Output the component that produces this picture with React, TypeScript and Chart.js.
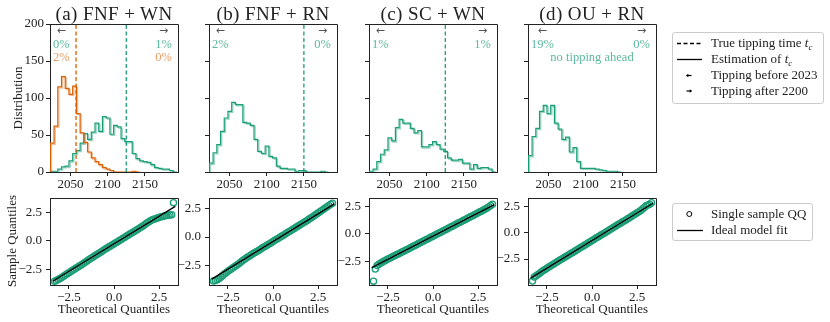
import React, { useEffect, useRef } from 'react';
import { Chart, registerables } from 'chart.js';

Chart.register(...registerables);

// ---------------- data ----------------
const binEdges = [2023, 2028, 2033, 2038, 2043, 2048, 2053, 2058, 2063, 2068, 2073, 2078, 2083, 2088, 2093, 2098, 2103, 2108, 2113, 2118, 2123, 2128, 2133, 2138, 2143, 2148, 2153, 2158, 2163, 2168, 2173, 2178, 2183, 2188, 2193];
const yearTicks = [2050, 2100, 2150];
const distTicks = [0, 50, 100, 150, 200];
const yearMin = 2022.5;
const yearMax = 2194.5;
const distMax = 200;

const histAGreen = [0, 1, 1, 4, 7, 8, 15, 25, 29, 39, 52, 44, 54, 66, 55, 75, 73, 51, 63, 61, 45, 41, 41, 25, 18, 15, 14, 13, 10, 6, 5, 4, 4, 2];
const histAOrange = [23, 39, 62, 115, 129, 113, 105, 116, 79, 53, 40, 27, 19, 14, 10, 6, 4, 2, 0, 0, 0, 0, 0, 1];
const histB = [1, 12, 26, 37, 55, 73, 82, 94, 91, 91, 67, 66, 63, 44, 28, 25, 35, 21, 19, 8, 5, 5, 4, 4, 1, 2, 2, 0, 0, 0, 0, 1];
const histC = [1, 1, 4, 14, 24, 30, 46, 42, 60, 71, 66, 66, 59, 53, 56, 34, 34, 37, 41, 37, 31, 28, 19, 16, 16, 17, 12, 12, 4, 10, 5, 6, 6, 4];
const histD = [8, 22, 48, 59, 82, 90, 79, 90, 66, 58, 44, 47, 27, 33, 14, 5, 5, 5, 5, 4, 3, 2, 1, 1, 1];

const tcAGreen = 2125;
const tcAOrange = 2057.5;
const tcB = 2150;
const tcC = 2125;

const panelTitles = ['(a) FNF + WN', '(b) FNF + RN', '(c) SC + WN', '(d) OU + RN'];
const tippingBeforeA = ['0%', '2%'];
const tippingAfterA = ['1%', '0%'];
const tippingBeforeB = ['2%'];
const tippingAfterB = ['0%'];
const tippingBeforeC = ['1%'];
const tippingAfterC = ['1%'];
const tippingBeforeD = ['19%'];
const tippingAfterD = ['0%'];
const noteD = 'no tipping ahead';

const qqTheoretical = [-3.3, -3.2, -3.1, -3.0, -2.9, -2.8, -2.7, -2.6, -2.5, -2.4, -2.3, -2.2, -2.1, -2.0, -1.9, -1.8, -1.7, -1.6, -1.5, -1.4, -1.3, -1.2, -1.1, -1.0, -0.9, -0.8, -0.7, -0.6, -0.5, -0.4, -0.3, -0.2, -0.1, 0.0, 0.1, 0.2, 0.3, 0.4, 0.5, 0.6, 0.7, 0.8, 0.9, 1.0, 1.1, 1.2, 1.3, 1.4, 1.5, 1.6, 1.7, 1.8, 1.9, 2.0, 2.1, 2.2, 2.3, 2.4, 2.5, 2.6, 2.7, 2.8, 2.9, 3.0, 3.1, 3.2, 3.3];
const qqSampleA = [-3.56, -3.50, -3.42, -3.33, -3.24, -3.13, -3.02, -2.91, -2.81, -2.71,
  -2.61, -2.51, -2.41, -2.31, -2.21, -2.11, -2.00, -1.89, -1.79, -1.68,
  -1.57, -1.47, -1.37, -1.26, -1.16, -1.06, -0.96, -0.85, -0.75, -0.66,
  -0.56, -0.47, -0.37, -0.27, -0.17, -0.08, 0.02, 0.12, 0.22, 0.31,
  0.41, 0.51, 0.61, 0.71, 0.80, 0.90, 1.00, 1.10, 1.20, 1.31,
  1.42, 1.54, 1.64, 1.74, 1.82, 1.89, 1.95, 2.01, 2.06, 2.11,
  2.15, 2.19, 2.22, 2.25, 2.28, 2.30, 3.36];
const qqSampleB = [-3.85, -3.80, -3.74, -3.66, -3.52, -3.38, -3.24, -3.12, -3.00, -2.89,
  -2.78, -2.67, -2.56, -2.45, -2.33, -2.20, -2.08, -1.97, -1.86, -1.75,
  -1.65, -1.55, -1.45, -1.36, -1.26, -1.17, -1.07, -0.97, -0.87, -0.78,
  -0.68, -0.58, -0.49, -0.39, -0.29, -0.19, -0.10, 0.00, 0.10, 0.19,
  0.29, 0.39, 0.48, 0.58, 0.68, 0.77, 0.87, 0.97, 1.07, 1.17,
  1.27, 1.37, 1.46, 1.57, 1.67, 1.77, 1.88, 1.99, 2.10, 2.21,
  2.32, 2.43, 2.55, 2.66, 2.77, 2.88, 2.97];
const qqSampleC = [-4.30, -3.20, -2.88, -2.75, -2.64, -2.55, -2.46, -2.38, -2.29, -2.21,
  -2.13, -2.04, -1.96, -1.88, -1.80, -1.71, -1.63, -1.55, -1.47, -1.39,
  -1.30, -1.22, -1.13, -1.05, -0.96, -0.88, -0.79, -0.71, -0.62, -0.54,
  -0.45, -0.37, -0.28, -0.20, -0.11, -0.03, 0.06, 0.14, 0.22, 0.31,
  0.39, 0.48, 0.56, 0.65, 0.73, 0.82, 0.90, 0.99, 1.07, 1.15,
  1.24, 1.32, 1.41, 1.49, 1.58, 1.66, 1.75, 1.83, 1.92, 2.01,
  2.09, 2.18, 2.27, 2.37, 2.47, 2.58, 2.70];
const qqSampleD = [-4.60, -4.22, -4.10, -3.98, -3.85, -3.72, -3.60, -3.49, -3.38, -3.27,
  -3.16, -3.05, -2.94, -2.84, -2.73, -2.63, -2.53, -2.42, -2.32, -2.22,
  -2.11, -2.01, -1.90, -1.80, -1.70, -1.59, -1.49, -1.38, -1.28, -1.17,
  -1.07, -0.96, -0.86, -0.75, -0.65, -0.54, -0.44, -0.33, -0.23, -0.12,
  -0.02, 0.09, 0.19, 0.30, 0.40, 0.51, 0.61, 0.72, 0.82, 0.93,
  1.03, 1.14, 1.24, 1.35, 1.45, 1.56, 1.67, 1.78, 1.89, 2.00,
  2.12, 2.25, 2.40, 2.55, 2.62, 2.70, 2.85];
const qqFitX = [-3.4, 3.4];
const qqFitA = [-3.57, 3.03];
const qqFitB = [-3.69, 2.91];
const qqFitC = [-3.07, 2.67];
const qqFitD = [-4.32, 2.82];
const qqXLim = [-3.55, 3.55];
const qqYLimA = [-3.9, 3.7];
const qqYLimB = [-4.2, 3.35];
const qqYLimC = [-4.65, 3.2];
const qqYLimD = [-4.97, 3.22];
const qqTicks = [-2.5, 0, 2.5];

const legendTopLabels = ['True tipping time', 'Estimation of', 'Tipping before 2023', 'Tipping after 2200'];
const legendBottomLabels = ['Single sample QQ', 'Ideal model fit'];

// ---------------- style / layout ----------------
const SERIF = "'Liberation Serif', 'Times New Roman', serif";
const ARROW_FONT = "'DejaVu Sans', sans-serif";
const GREEN = '#1b9e77';
const ORANGE = '#d95f02';
const GREEN_HALO = 'rgba(27,158,119,0.45)';
const ORANGE_HALO = 'rgba(217,95,2,0.4)';
const GREEN_TXT = 'rgba(27,158,119,0.72)';
const ORANGE_TXT = 'rgba(217,95,2,0.62)';
const AXIS = '#222222';
const TEXT = '#222222';
const ARROW = '#555555';

const PLOT_LEFTS = [50, 209, 369, 528];
const PLOT_W = 128;
const TOP_Y = 24;
const TOP_H = 148;
const BOT_Y = 197;
const BOT_H = 88;
const PAD_L = 45;
const PAD_T = 10;
const PAD_R = 8;
const PAD_B = 24;
const Y_W = 40;
const X_H = 22;

function alignPx(p: number) {
  return Math.round(p - 0.5) + 0.5;
}

const framePlugin = {
  id: 'frame',
  afterDraw(chart: any) {
    const { ctx, chartArea: a } = chart;
    ctx.save();
    ctx.strokeStyle = AXIS;
    ctx.lineWidth = 1;
    ctx.beginPath();
    const l = alignPx(a.left), r = alignPx(a.right), t = alignPx(a.top), b = alignPx(a.bottom);
    ctx.moveTo(l, t);
    ctx.lineTo(r, t);
    ctx.lineTo(r, b);
    ctx.stroke();
    ctx.restore();
  },
};

const haloPlugin = {
  id: 'halo',
  beforeDatasetDraw(chart: any, args: any) {
    const ds: any = chart.data.datasets[args.index];
    if (!ds.halo) return;
    const ctx = chart.ctx;
    ctx.save();
    ctx.shadowColor = ds.halo;
    ctx.shadowOffsetX = 1.2;
    ctx.shadowOffsetY = 1.2;
    ctx.shadowBlur = 0.6;
  },
  afterDatasetDraw(chart: any, args: any) {
    const ds: any = chart.data.datasets[args.index];
    if (!ds.halo) return;
    chart.ctx.restore();
  },
};

function scale(axis: 'x' | 'y', min: number, max: number, ticks: number[], fmt: (v: number) => string, showLabels: boolean, pad: number) {
  return {
    type: 'linear',
    min,
    max,
    afterBuildTicks: (s: any) => {
      s.ticks = ticks.map((v) => ({ value: v }));
    },
    afterFit: (s: any) => {
      if (axis === 'x') s.height = X_H;
      else s.width = Y_W;
    },
    ticks: {
      color: TEXT,
      font: { family: SERIF, size: 13 },
      padding: pad,
      maxRotation: 0,
      autoSkip: false,
      callback: (v: any) => (showLabels ? fmt(Number(v)) : ''),
    },
    grid: { display: true, drawOnChartArea: false, drawTicks: true, tickLength: 4, tickWidth: 1, tickColor: AXIS },
    border: { display: true, color: AXIS, width: 1 },
  };
}

const fmtYear = (v: number) => String(v);
const fmtQ = (v: number) => (v < 0 ? '\u2212' : '') + Math.abs(v).toFixed(1);

function stepData(counts: number[]) {
  const pts = [{ x: binEdges[0], y: 0 }];
  counts.forEach((c, i) => pts.push({ x: binEdges[i], y: c }));
  pts.push({ x: binEdges[counts.length], y: 0 });
  return pts;
}

type HistSeries = { counts: number[]; color: string; halo: string };
type HistPanel = { series: HistSeries[]; tcs: { t: number; color: string }[]; showY: boolean };

const histPanels: HistPanel[] = [
  {
    series: [
      { counts: histAGreen, color: GREEN, halo: GREEN_HALO },
      { counts: histAOrange, color: ORANGE, halo: ORANGE_HALO },
    ],
    tcs: [
      { t: tcAGreen, color: GREEN },
      { t: tcAOrange, color: ORANGE },
    ],
    showY: true,
  },
  { series: [{ counts: histB, color: GREEN, halo: GREEN_HALO }], tcs: [{ t: tcB, color: GREEN }], showY: false },
  { series: [{ counts: histC, color: GREEN, halo: GREEN_HALO }], tcs: [{ t: tcC, color: GREEN }], showY: false },
  { series: [{ counts: histD, color: GREEN, halo: GREEN_HALO }], tcs: [], showY: false },
];

const qqPanels = [
  { sample: qqSampleA, fit: qqFitA, ylim: qqYLimA },
  { sample: qqSampleB, fit: qqFitB, ylim: qqYLimB },
  { sample: qqSampleC, fit: qqFitC, ylim: qqYLimC },
  { sample: qqSampleD, fit: qqFitD, ylim: qqYLimD },
];

const beforeTexts = [tippingBeforeA, tippingBeforeB, tippingBeforeC, tippingBeforeD];
const afterTexts = [tippingAfterA, tippingAfterB, tippingAfterC, tippingAfterD];
const textColors = [[GREEN_TXT, ORANGE_TXT], [GREEN_TXT], [GREEN_TXT], [GREEN_TXT]];

const baseOptions = {
  responsive: false,
  animation: false,
  devicePixelRatio: 1,
  events: [],
  layout: { padding: { left: PAD_L - Y_W, top: PAD_T, right: PAD_R, bottom: PAD_B - X_H } },
  plugins: { legend: { display: false }, tooltip: { enabled: false }, title: { display: false } },
};

function histConfig(p: HistPanel): any {
  const datasets: any[] = [];
  p.series.forEach((s, k) => {
    datasets.push({
      type: 'line',
      data: stepData(s.counts),
      borderColor: s.color,
      borderWidth: 1.2,
      pointRadius: 0,
      stepped: 'after',
      fill: false,
      halo: s.halo,
      order: 10 - k,
    });
  });
  p.tcs.forEach((tc) => {
    datasets.push({
      type: 'line',
      data: [
        { x: tc.t, y: 0 },
        { x: tc.t, y: distMax },
      ],
      borderColor: tc.color,
      borderWidth: 1.3,
      borderDash: [4, 2.5],
      pointRadius: 0,
      fill: false,
      order: 0,
    });
  });
  return {
    type: 'line',
    data: { datasets },
    options: {
      ...baseOptions,
      scales: {
        x: scale('x', yearMin, yearMax, yearTicks, fmtYear, true, 1),
        y: scale('y', 0, distMax, distTicks, fmtYear, p.showY, 2),
      },
    },
    plugins: [framePlugin, haloPlugin],
  };
}

function qqConfig(q: { sample: number[]; fit: number[]; ylim: number[] }): any {
  return {
    type: 'scatter',
    data: {
      datasets: [
        {
          type: 'line',
          data: [
            { x: qqFitX[0], y: q.fit[0] },
            { x: qqFitX[1], y: q.fit[1] },
          ],
          borderColor: '#000000',
          borderWidth: 1.3,
          pointRadius: 0,
          fill: false,
          order: 0,
        },
        {
          type: 'scatter',
          data: qqTheoretical.map((x, i) => ({ x, y: q.sample[i] })),
          pointRadius: 3.1,
          pointBorderWidth: 1.3,
          borderColor: GREEN,
          backgroundColor: 'rgba(0,0,0,0)',
          pointBorderColor: GREEN,
          pointBackgroundColor: 'rgba(0,0,0,0)',
          pointStyle: 'circle',
          order: 1,
        },
      ],
    },
    options: {
      ...baseOptions,
      scales: {
        x: scale('x', qqXLim[0], qqXLim[1], qqTicks, fmtQ, true, 1),
        y: scale('y', q.ylim[0], q.ylim[1], qqTicks, fmtQ, true, 4),
      },
    },
    plugins: [framePlugin],
  };
}

const abs = (o: any): any => ({ position: 'absolute', ...o });

function TC() {
  return (
    <>
      <span style={{ fontStyle: 'italic' }}>t</span>
      <span style={{ fontStyle: 'italic', fontSize: 9, position: 'relative', top: 3 }}>c</span>
    </>
  );
}

export default function App() {
  const refs = useRef<(HTMLCanvasElement | null)[]>([]);

  useEffect(() => {
    const charts: Chart[] = [];
    histPanels.forEach((p, i) => {
      const c = refs.current[i];
      if (c) charts.push(new Chart(c, histConfig(p)));
    });
    qqPanels.forEach((q, i) => {
      const c = refs.current[4 + i];
      if (c) charts.push(new Chart(c, qqConfig(q)));
    });
    return () => charts.forEach((c) => c.destroy());
  }, []);

  const canvW = PLOT_W + PAD_L + PAD_R;
  const topCanvH = TOP_H + PAD_T + PAD_B;
  const botCanvH = BOT_H + PAD_T + PAD_B;
  const arrowStyle = { color: ARROW, fontFamily: ARROW_FONT, fontSize: 11 };

  return (
    <div style={abs({ left: 0, top: 0, width: 830, height: 322, background: '#ffffff', fontFamily: SERIF, color: TEXT, overflow: 'hidden' })}>
      {PLOT_LEFTS.map((l, i) => (
        <canvas
          key={'h' + i}
          ref={(el) => {
            refs.current[i] = el;
          }}
          width={canvW}
          height={topCanvH}
          style={abs({ left: l - PAD_L, top: TOP_Y - PAD_T, width: canvW, height: topCanvH })}
        />
      ))}
      {PLOT_LEFTS.map((l, i) => (
        <canvas
          key={'q' + i}
          ref={(el) => {
            refs.current[4 + i] = el;
          }}
          width={canvW}
          height={botCanvH}
          style={abs({ left: l - PAD_L, top: BOT_Y - PAD_T, width: canvW, height: botCanvH })}
        />
      ))}

      {/* titles */}
      {PLOT_LEFTS.map((l, i) => (
        <div key={'t' + i} style={abs({ left: l, top: 3, width: PLOT_W, textAlign: 'center', fontSize: 19, lineHeight: '22px', letterSpacing: 0.4, whiteSpace: 'nowrap' })}>
          {panelTitles[i]}
        </div>
      ))}

      {/* tipping percentages */}
      {PLOT_LEFTS.map((l, i) => (
        <div key={'b' + i} style={abs({ left: l + 3, top: TOP_Y, textAlign: 'center', fontSize: 12.5, lineHeight: '13.5px' })}>
          <div style={arrowStyle}>{'\u2190'}</div>
          {beforeTexts[i].map((t, k) => (
            <div key={k} style={{ color: textColors[i][k] }}>
              {t}
            </div>
          ))}
        </div>
      ))}
      {PLOT_LEFTS.map((l, i) => (
        <div key={'a' + i} style={abs({ right: 830 - (l + PLOT_W) + 6, top: TOP_Y, textAlign: 'center', fontSize: 12.5, lineHeight: '13.5px' })}>
          <div style={arrowStyle}>{'\u2192'}</div>
          {afterTexts[i].map((t, k) => (
            <div key={k} style={{ color: textColors[i][k] }}>
              {t}
            </div>
          ))}
        </div>
      ))}
      <div style={abs({ left: PLOT_LEFTS[3], top: TOP_Y + 27, width: PLOT_W, textAlign: 'center', fontSize: 12.5, lineHeight: '13.5px', color: GREEN_TXT })}>{noteD}</div>

      {/* axis labels */}
      <div style={abs({ left: 18, top: 98, transform: 'translate(-50%,-50%) rotate(-90deg)', fontSize: 13, whiteSpace: 'nowrap' })}>Distribution</div>
      <div style={abs({ left: 12, top: 241, transform: 'translate(-50%,-50%) rotate(-90deg)', fontSize: 13, whiteSpace: 'nowrap' })}>Sample Quantiles</div>
      {PLOT_LEFTS.map((l, i) => (
        <div key={'x' + i} style={abs({ left: l, top: 301, width: PLOT_W, textAlign: 'center', fontSize: 13, lineHeight: '16px', whiteSpace: 'nowrap' })}>
          Theoretical Quantiles
        </div>
      ))}

      {/* legend top */}
      <div style={abs({ left: 672, top: 32, width: 152, height: 72, border: '1px solid #cccccc', borderRadius: 3, boxSizing: 'border-box', background: '#ffffff' })} />
      <svg style={abs({ left: 672, top: 32 })} width={40} height={72}>
        <line x1={5} x2={30} y1={11.5} y2={11.5} stroke="#000" strokeWidth={1.3} strokeDasharray="4 2.5" />
        <line x1={5} x2={30} y1={27.5} y2={27.5} stroke="#000" strokeWidth={1.3} />
        <line x1={14.5} x2={19.5} y1={43.5} y2={43.5} stroke="#000" strokeWidth={1.2} />
        <path d="M14 43.5 L16.3 41.8 L16.3 45.2 Z" fill="#000" />
        <line x1={14.5} x2={19.5} y1={59} y2={59} stroke="#000" strokeWidth={1.2} />
        <path d="M20 59 L17.7 57.3 L17.7 60.7 Z" fill="#000" />
      </svg>
      <div style={abs({ left: 711, top: 35, fontSize: 13, lineHeight: '16px', whiteSpace: 'nowrap' })}>
        {legendTopLabels[0]} <TC />
      </div>
      <div style={abs({ left: 711, top: 51, fontSize: 13, lineHeight: '16px', whiteSpace: 'nowrap' })}>
        {legendTopLabels[1]} <TC />
      </div>
      <div style={abs({ left: 711, top: 67, fontSize: 13, lineHeight: '16px', whiteSpace: 'nowrap' })}>{legendTopLabels[2]}</div>
      <div style={abs({ left: 711, top: 83, fontSize: 13, lineHeight: '16px', whiteSpace: 'nowrap' })}>{legendTopLabels[3]}</div>

      {/* legend bottom */}
      <div style={abs({ left: 672, top: 203, width: 141, height: 38, border: '1px solid #cccccc', borderRadius: 3, boxSizing: 'border-box', background: '#ffffff' })} />
      <svg style={abs({ left: 672, top: 203 })} width={40} height={38}>
        <circle cx={17.3} cy={11} r={2.5} fill="none" stroke="#000" strokeWidth={1} />
        <line x1={5} x2={31} y1={27.5} y2={27.5} stroke="#000" strokeWidth={1.3} />
      </svg>
      <div style={abs({ left: 711, top: 206, fontSize: 13, lineHeight: '16px', whiteSpace: 'nowrap' })}>{legendBottomLabels[0]}</div>
      <div style={abs({ left: 711, top: 222, fontSize: 13, lineHeight: '16px', whiteSpace: 'nowrap' })}>{legendBottomLabels[1]}</div>
    </div>
  );
}
